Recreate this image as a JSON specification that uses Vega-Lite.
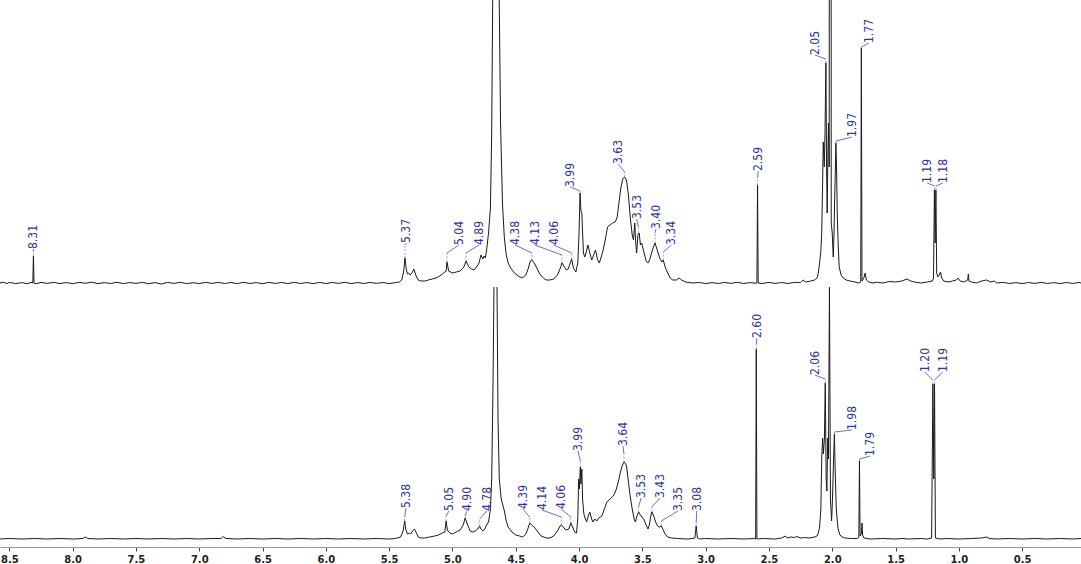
{
"$schema": "https://vega.github.io/schema/vega-lite/v6.json",
"width": 1081,
"height": 547,
"autosize": {"type": "none"},
"padding": {"left": 0, "top": 0, "right": 0, "bottom": 17},
"background": "white",
"config": {"view": {"stroke": null}},
"datasets": {
"top": [
{"ppm":8.574,"i":0},{"ppm":8.55,"i":0.8},{"ppm":8.52,"i":-0.5},{"ppm":8.5,"i":0.6},{"ppm":8.45,"i":-0.6},{"ppm":8.4,"i":0.4},{"ppm":8.36,"i":-0.8},{"ppm":8.33,"i":0.6},{"ppm":8.315,"i":0},{"ppm":8.31,"i":27},{"ppm":8.305,"i":0},{"ppm":8.29,"i":-0.8},{"ppm":8.25,"i":0.6},{"ppm":8.2,"i":-0.4},{"ppm":8.15,"i":0.7},{"ppm":8.1,"i":-0.6},{"ppm":8.05,"i":0.5},{"ppm":8.0,"i":-0.7},{"ppm":7.95,"i":0.6},{"ppm":7.9,"i":-0.3},{"ppm":7.85,"i":0.8},{"ppm":7.8,"i":-0.6},{"ppm":7.75,"i":0.4},{"ppm":7.7,"i":-0.5},{"ppm":7.65,"i":0.7},{"ppm":7.6,"i":-0.6},{"ppm":7.55,"i":0.5},{"ppm":7.5,"i":-0.4},{"ppm":7.45,"i":0.6},{"ppm":7.4,"i":-0.7},{"ppm":7.35,"i":0.4},{"ppm":7.3,"i":-1},{"ppm":7.25,"i":0.6},{"ppm":7.2,"i":-0.4},{"ppm":7.15,"i":0.7},{"ppm":7.1,"i":-0.6},{"ppm":7.05,"i":0.3},{"ppm":7.0,"i":-0.6},{"ppm":6.95,"i":0.7},{"ppm":6.9,"i":-0.4},{"ppm":6.85,"i":0.6},{"ppm":6.8,"i":-0.5},{"ppm":6.75,"i":0.5},{"ppm":6.7,"i":-0.6},{"ppm":6.65,"i":0.7},{"ppm":6.6,"i":-0.5},{"ppm":6.55,"i":0.4},{"ppm":6.5,"i":-0.7},{"ppm":6.45,"i":0.6},{"ppm":6.4,"i":-0.4},{"ppm":6.35,"i":0.5},{"ppm":6.3,"i":-0.6},{"ppm":6.25,"i":0.7},{"ppm":6.2,"i":-0.5},{"ppm":6.15,"i":0.4},{"ppm":6.1,"i":-0.6},{"ppm":6.05,"i":0.6},{"ppm":6.0,"i":-0.5},{"ppm":5.95,"i":0.5},{"ppm":5.9,"i":-0.4},{"ppm":5.85,"i":0.7},{"ppm":5.8,"i":-0.6},{"ppm":5.75,"i":0.5},{"ppm":5.7,"i":-0.5},{"ppm":5.65,"i":0.6},{"ppm":5.6,"i":-0.4},{"ppm":5.55,"i":0.5},{"ppm":5.5,"i":-0.6},{"ppm":5.45,"i":0.4},{"ppm":5.42,"i":1},
{"ppm":5.4,"i":3},{"ppm":5.385,"i":12},{"ppm":5.375,"i":25},{"ppm":5.365,"i":14},{"ppm":5.355,"i":9},{"ppm":5.345,"i":10},{"ppm":5.335,"i":8},{"ppm":5.32,"i":10},{"ppm":5.305,"i":14},{"ppm":5.29,"i":8},{"ppm":5.27,"i":3},{"ppm":5.25,"i":2},{"ppm":5.22,"i":2},{"ppm":5.19,"i":3},{"ppm":5.16,"i":4},{"ppm":5.13,"i":5},{"ppm":5.1,"i":7},{"ppm":5.07,"i":10},{"ppm":5.05,"i":12},{"ppm":5.043,"i":21},{"ppm":5.03,"i":12},{"ppm":5.0,"i":10},{"ppm":4.97,"i":11},{"ppm":4.94,"i":12},{"ppm":4.91,"i":16},{"ppm":4.893,"i":22},{"ppm":4.87,"i":16},{"ppm":4.85,"i":14},{"ppm":4.83,"i":13},{"ppm":4.81,"i":16},{"ppm":4.79,"i":20},{"ppm":4.775,"i":28},{"ppm":4.76,"i":24},{"ppm":4.75,"i":27},{"ppm":4.74,"i":25},{"ppm":4.73,"i":33},{"ppm":4.715,"i":50},{"ppm":4.7,"i":75},{"ppm":4.69,"i":150},{"ppm":4.68,"i":320},{"ppm":4.656,"i":5000},{"ppm":4.632,"i":300},{"ppm":4.62,"i":160},{"ppm":4.605,"i":80},{"ppm":4.59,"i":45},{"ppm":4.575,"i":28},{"ppm":4.56,"i":20},{"ppm":4.54,"i":15},{"ppm":4.51,"i":10},{"ppm":4.48,"i":7},{"ppm":4.45,"i":5},{"ppm":4.42,"i":8},{"ppm":4.4,"i":15},{"ppm":4.385,"i":22},{"ppm":4.372,"i":23},{"ppm":4.35,"i":19},{"ppm":4.33,"i":14},{"ppm":4.31,"i":9},{"ppm":4.29,"i":6},{"ppm":4.26,"i":3},{"ppm":4.23,"i":3},{"ppm":4.2,"i":4},{"ppm":4.17,"i":8},{"ppm":4.145,"i":16},{"ppm":4.135,"i":20},{"ppm":4.12,"i":17},{"ppm":4.1,"i":13},{"ppm":4.085,"i":14},{"ppm":4.07,"i":20},{"ppm":4.058,"i":24},{"ppm":4.045,"i":15},{"ppm":4.025,"i":11},{"ppm":4.01,"i":20},{"ppm":4.0,"i":50},{"ppm":3.992,"i":90},{"ppm":3.985,"i":72},{"ppm":3.978,"i":70},{"ppm":3.972,"i":50},{"ppm":3.965,"i":30},{"ppm":3.955,"i":26},{"ppm":3.945,"i":30},{"ppm":3.93,"i":38},{"ppm":3.915,"i":30},{"ppm":3.9,"i":23},{"ppm":3.885,"i":28},{"ppm":3.87,"i":33},{"ppm":3.855,"i":24},{"ppm":3.84,"i":20},{"ppm":3.825,"i":26},{"ppm":3.81,"i":33},{"ppm":3.795,"i":42},{"ppm":3.775,"i":56},{"ppm":3.755,"i":58},{"ppm":3.735,"i":60},{"ppm":3.715,"i":61},{"ppm":3.7,"i":65},{"ppm":3.685,"i":80},{"ppm":3.67,"i":95},{"ppm":3.655,"i":104},{"ppm":3.64,"i":106},{"ppm":3.625,"i":103},{"ppm":3.61,"i":88},{"ppm":3.595,"i":65},{"ppm":3.58,"i":48},{"ppm":3.57,"i":43},{"ppm":3.56,"i":60},{"ppm":3.552,"i":40},{"ppm":3.545,"i":30},{"ppm":3.535,"i":48},{"ppm":3.525,"i":50},{"ppm":3.515,"i":38},{"ppm":3.505,"i":40},{"ppm":3.49,"i":32},{"ppm":3.47,"i":22},{"ppm":3.455,"i":20},{"ppm":3.44,"i":24},{"ppm":3.425,"i":31},{"ppm":3.41,"i":37},{"ppm":3.4,"i":40},{"ppm":3.39,"i":36},{"ppm":3.375,"i":30},{"ppm":3.36,"i":24},{"ppm":3.345,"i":21},{"ppm":3.335,"i":23},{"ppm":3.32,"i":16},{"ppm":3.3,"i":10},{"ppm":3.28,"i":5},{"ppm":3.26,"i":3},{"ppm":3.23,"i":3},{"ppm":3.21,"i":5},{"ppm":3.19,"i":3},{"ppm":3.16,"i":1},{"ppm":3.1,"i":0},{"ppm":3.05,"i":0.6},{"ppm":3.0,"i":-0.6},{"ppm":2.95,"i":0.4},{"ppm":2.9,"i":-0.5},{"ppm":2.85,"i":0.6},{"ppm":2.8,"i":-0.4},{"ppm":2.75,"i":0.7},{"ppm":2.7,"i":-0.5},{"ppm":2.65,"i":0.4},{"ppm":2.6,"i":-0.3},{"ppm":2.595,"i":0},{"ppm":2.59,"i":98},{"ppm":2.585,"i":0},{"ppm":2.56,"i":-0.6},{"ppm":2.5,"i":0.6},{"ppm":2.45,"i":-0.4},{"ppm":2.4,"i":0.5},{"ppm":2.35,"i":-0.5},{"ppm":2.3,"i":0.6},{"ppm":2.25,"i":0.5},{"ppm":2.23,"i":3},{"ppm":2.21,"i":1},{"ppm":2.17,"i":2},{"ppm":2.14,"i":3},{"ppm":2.12,"i":5},{"ppm":2.11,"i":10},{"ppm":2.1,"i":20},{"ppm":2.09,"i":32},{"ppm":2.083,"i":50},{"ppm":2.076,"i":100},{"ppm":2.071,"i":141},{"ppm":2.063,"i":116},{"ppm":2.057,"i":150},{"ppm":2.05,"i":220},{"ppm":2.045,"i":120},{"ppm":2.04,"i":70},{"ppm":2.034,"i":130},{"ppm":2.03,"i":160},{"ppm":2.024,"i":116},{"ppm":2.015,"i":3000},{"ppm":2.008,"i":60},{"ppm":2.0,"i":50},{"ppm":1.992,"i":26},{"ppm":1.986,"i":50},{"ppm":1.981,"i":83},{"ppm":1.976,"i":110},{"ppm":1.971,"i":140},{"ppm":1.965,"i":110},{"ppm":1.96,"i":66},{"ppm":1.952,"i":35},{"ppm":1.945,"i":16},{"ppm":1.93,"i":8},{"ppm":1.913,"i":5},{"ppm":1.89,"i":3},{"ppm":1.86,"i":2},{"ppm":1.82,"i":1},{"ppm":1.79,"i":0},{"ppm":1.775,"i":1},{"ppm":1.77,"i":235},{"ppm":1.765,"i":2},{"ppm":1.75,"i":5},{"ppm":1.74,"i":10},{"ppm":1.73,"i":3},{"ppm":1.71,"i":1},{"ppm":1.68,"i":0},{"ppm":1.65,"i":0.8},{"ppm":1.6,"i":0},{"ppm":1.55,"i":1.5},{"ppm":1.5,"i":1},{"ppm":1.45,"i":2},{"ppm":1.41,"i":4},{"ppm":1.38,"i":2},{"ppm":1.35,"i":1},{"ppm":1.3,"i":0},{"ppm":1.25,"i":1},{"ppm":1.21,"i":2},{"ppm":1.2,"i":5},{"ppm":1.193,"i":93},{"ppm":1.187,"i":40},{"ppm":1.181,"i":93},{"ppm":1.175,"i":10},{"ppm":1.165,"i":6},{"ppm":1.155,"i":8},{"ppm":1.145,"i":11},{"ppm":1.135,"i":5},{"ppm":1.12,"i":2},{"ppm":1.08,"i":1},{"ppm":1.05,"i":2},{"ppm":1.02,"i":3},{"ppm":1.005,"i":5},{"ppm":0.99,"i":2},{"ppm":0.96,"i":1},{"ppm":0.93,"i":3},{"ppm":0.925,"i":9},{"ppm":0.92,"i":2},{"ppm":0.9,"i":1},{"ppm":0.86,"i":0},{"ppm":0.82,"i":2},{"ppm":0.78,"i":3},{"ppm":0.75,"i":1},{"ppm":0.72,"i":2},{"ppm":0.7,"i":0},{"ppm":0.65,"i":0.6},{"ppm":0.6,"i":-0.5},{"ppm":0.55,"i":0.4},{"ppm":0.5,"i":-0.6},{"ppm":0.45,"i":0.5},{"ppm":0.4,"i":-0.4},{"ppm":0.35,"i":0.6},{"ppm":0.3,"i":-0.5},{"ppm":0.25,"i":0.4},{"ppm":0.2,"i":-0.6},{"ppm":0.15,"i":0.5},{"ppm":0.1,"i":-0.4},{"ppm":0.05,"i":0.5},{"ppm":0.035,"i":0}
],
"bottom": [
{"ppm":8.574,"i":0},{"ppm":8.5,"i":0.5},{"ppm":8.4,"i":0},{"ppm":8.3,"i":0.5},{"ppm":8.2,"i":0},{"ppm":8.1,"i":0.5},{"ppm":8.0,"i":0},{"ppm":7.92,"i":0.5},{"ppm":7.9,"i":2},{"ppm":7.88,"i":0.5},{"ppm":7.8,"i":0},{"ppm":7.7,"i":0.5},{"ppm":7.6,"i":0},{"ppm":7.5,"i":0.5},{"ppm":7.4,"i":0},{"ppm":7.3,"i":0.5},{"ppm":7.2,"i":0},{"ppm":7.1,"i":0.5},{"ppm":7.0,"i":0},{"ppm":6.9,"i":0.5},{"ppm":6.83,"i":0.5},{"ppm":6.81,"i":2.5},{"ppm":6.79,"i":0.5},{"ppm":6.7,"i":0},{"ppm":6.6,"i":0.5},{"ppm":6.5,"i":0},{"ppm":6.4,"i":0.5},{"ppm":6.3,"i":0},{"ppm":6.2,"i":0.5},{"ppm":6.1,"i":0},{"ppm":6.0,"i":0.5},{"ppm":5.9,"i":0},{"ppm":5.8,"i":0.5},{"ppm":5.7,"i":0},{"ppm":5.6,"i":0.5},{"ppm":5.5,"i":0},{"ppm":5.45,"i":0.5},
{"ppm":5.41,"i":2},{"ppm":5.39,"i":8},{"ppm":5.377,"i":18},{"ppm":5.37,"i":10},{"ppm":5.355,"i":5},{"ppm":5.34,"i":6},{"ppm":5.33,"i":5},{"ppm":5.315,"i":8},{"ppm":5.3,"i":10},{"ppm":5.285,"i":6},{"ppm":5.27,"i":2},{"ppm":5.25,"i":1},{"ppm":5.22,"i":1},{"ppm":5.18,"i":2},{"ppm":5.14,"i":3},{"ppm":5.11,"i":4},{"ppm":5.08,"i":6},{"ppm":5.06,"i":7},{"ppm":5.05,"i":18},{"ppm":5.04,"i":9},{"ppm":5.02,"i":6},{"ppm":5.0,"i":5},{"ppm":4.97,"i":7},{"ppm":4.94,"i":9},{"ppm":4.915,"i":14},{"ppm":4.9,"i":21},{"ppm":4.88,"i":14},{"ppm":4.86,"i":8},{"ppm":4.84,"i":7},{"ppm":4.82,"i":8},{"ppm":4.8,"i":10},{"ppm":4.785,"i":13},{"ppm":4.775,"i":10},{"ppm":4.76,"i":8},{"ppm":4.745,"i":10},{"ppm":4.73,"i":14},{"ppm":4.715,"i":17},{"ppm":4.7,"i":30},{"ppm":4.69,"i":60},{"ppm":4.68,"i":150},{"ppm":4.672,"i":300},{"ppm":4.66,"i":null},{"ppm":4.648,"i":300},{"ppm":4.64,"i":120},{"ppm":4.63,"i":60},{"ppm":4.615,"i":40},{"ppm":4.6,"i":33},{"ppm":4.59,"i":28},{"ppm":4.575,"i":18},{"ppm":4.56,"i":12},{"ppm":4.53,"i":7},{"ppm":4.5,"i":4},{"ppm":4.47,"i":3},{"ppm":4.445,"i":2},{"ppm":4.42,"i":5},{"ppm":4.405,"i":10},{"ppm":4.39,"i":16},{"ppm":4.375,"i":14},{"ppm":4.355,"i":12},{"ppm":4.33,"i":8},{"ppm":4.3,"i":3},{"ppm":4.26,"i":1},{"ppm":4.23,"i":1},{"ppm":4.2,"i":3},{"ppm":4.17,"i":8},{"ppm":4.15,"i":13},{"ppm":4.14,"i":14},{"ppm":4.125,"i":12},{"ppm":4.105,"i":9},{"ppm":4.08,"i":10},{"ppm":4.065,"i":16},{"ppm":4.05,"i":12},{"ppm":4.035,"i":7},{"ppm":4.02,"i":6},{"ppm":4.01,"i":20},{"ppm":4.003,"i":60},{"ppm":3.997,"i":50},{"ppm":3.99,"i":72},{"ppm":3.985,"i":55},{"ppm":3.978,"i":70},{"ppm":3.972,"i":40},{"ppm":3.962,"i":25},{"ppm":3.95,"i":20},{"ppm":3.94,"i":17},{"ppm":3.925,"i":24},{"ppm":3.915,"i":27},{"ppm":3.9,"i":20},{"ppm":3.89,"i":17},{"ppm":3.875,"i":20},{"ppm":3.86,"i":18},{"ppm":3.845,"i":21},{"ppm":3.82,"i":23},{"ppm":3.8,"i":30},{"ppm":3.78,"i":37},{"ppm":3.755,"i":40},{"ppm":3.73,"i":43},{"ppm":3.71,"i":48},{"ppm":3.69,"i":57},{"ppm":3.675,"i":66},{"ppm":3.66,"i":73},{"ppm":3.645,"i":77},{"ppm":3.635,"i":76},{"ppm":3.625,"i":73},{"ppm":3.61,"i":57},{"ppm":3.595,"i":42},{"ppm":3.58,"i":30},{"ppm":3.565,"i":20},{"ppm":3.555,"i":17},{"ppm":3.545,"i":22},{"ppm":3.53,"i":27},{"ppm":3.51,"i":23},{"ppm":3.49,"i":20},{"ppm":3.47,"i":14},{"ppm":3.455,"i":10},{"ppm":3.445,"i":14},{"ppm":3.435,"i":22},{"ppm":3.425,"i":27},{"ppm":3.41,"i":23},{"ppm":3.395,"i":17},{"ppm":3.38,"i":13},{"ppm":3.365,"i":12},{"ppm":3.35,"i":13},{"ppm":3.335,"i":9},{"ppm":3.32,"i":5},{"ppm":3.3,"i":2},{"ppm":3.27,"i":1},{"ppm":3.22,"i":0.5},{"ppm":3.15,"i":0},{"ppm":3.1,"i":0.5},{"ppm":3.085,"i":1},{"ppm":3.075,"i":13},{"ppm":3.065,"i":1},{"ppm":3.05,"i":0},{"ppm":3.0,"i":0.5},{"ppm":2.9,"i":0},{"ppm":2.8,"i":0.5},{"ppm":2.7,"i":0},{"ppm":2.62,"i":0.5},{"ppm":2.605,"i":0},{"ppm":2.6,"i":190},{"ppm":2.595,"i":0},{"ppm":2.55,"i":0.5},{"ppm":2.45,"i":0},{"ppm":2.4,"i":1},{"ppm":2.37,"i":3},{"ppm":2.355,"i":1},{"ppm":2.33,"i":2},{"ppm":2.3,"i":1.5},{"ppm":2.28,"i":2.5},{"ppm":2.25,"i":1},{"ppm":2.22,"i":1.5},{"ppm":2.18,"i":1},{"ppm":2.14,"i":2},{"ppm":2.12,"i":3},{"ppm":2.11,"i":6},{"ppm":2.1,"i":12},{"ppm":2.09,"i":30},{"ppm":2.083,"i":81},{"ppm":2.076,"i":101},{"ppm":2.07,"i":85},{"ppm":2.062,"i":100},{"ppm":2.055,"i":156},{"ppm":2.048,"i":60},{"ppm":2.042,"i":48},{"ppm":2.036,"i":101},{"ppm":2.03,"i":80},{"ppm":2.022,"i":400},{"ppm":2.014,"i":40},{"ppm":2.005,"i":18},{"ppm":1.998,"i":40},{"ppm":1.99,"i":78},{"ppm":1.983,"i":105},{"ppm":1.976,"i":65},{"ppm":1.968,"i":30},{"ppm":1.955,"i":11},{"ppm":1.94,"i":4},{"ppm":1.92,"i":2},{"ppm":1.9,"i":1},{"ppm":1.85,"i":0.5},{"ppm":1.8,"i":0.5},{"ppm":1.79,"i":2},{"ppm":1.785,"i":78},{"ppm":1.78,"i":3},{"ppm":1.77,"i":5},{"ppm":1.765,"i":16},{"ppm":1.76,"i":4},{"ppm":1.75,"i":1},{"ppm":1.7,"i":0},{"ppm":1.6,"i":0.5},{"ppm":1.5,"i":0},{"ppm":1.45,"i":0.5},{"ppm":1.4,"i":0},{"ppm":1.3,"i":0.5},{"ppm":1.25,"i":0},{"ppm":1.215,"i":1},{"ppm":1.205,"i":155},{"ppm":1.198,"i":60},{"ppm":1.192,"i":155},{"ppm":1.185,"i":1},{"ppm":1.15,"i":0},{"ppm":1.1,"i":0.5},{"ppm":1.0,"i":0},{"ppm":0.9,"i":0.5},{"ppm":0.82,"i":1},{"ppm":0.78,"i":2},{"ppm":0.76,"i":0.5},{"ppm":0.7,"i":0},{"ppm":0.6,"i":0.5},{"ppm":0.5,"i":0},{"ppm":0.4,"i":0.5},{"ppm":0.3,"i":0},{"ppm":0.2,"i":0.5},{"ppm":0.1,"i":0},{"ppm":0.035,"i":0.5}
],
"topLabels": [
{"t":"8.31","px":8.31,"py":27,"ky":32,"lx":8.31,"ly":34},
{"t":"5.37","px":5.375,"py":25,"ky":38,"lx":5.365,"ly":40},
{"t":"5.04","px":5.043,"py":21,"ky":30,"lx":4.95,"ly":38},
{"t":"4.89","px":4.893,"py":22,"ky":30,"lx":4.79,"ly":38},
{"t":"4.38","px":4.372,"py":23,"ky":30,"lx":4.506,"ly":38},
{"t":"4.13","px":4.135,"py":20,"ky":28,"lx":4.35,"ly":38},
{"t":"4.06","px":4.058,"py":24,"ky":30,"lx":4.2,"ly":38},
{"t":"3.99","px":3.992,"py":90,"ky":92,"lx":4.07,"ly":96},
{"t":"3.63","px":3.64,"py":106,"ky":111,"lx":3.69,"ly":119},
{"t":"3.53","px":3.53,"py":50,"ky":56,"lx":3.545,"ly":64},
{"t":"3.40","px":3.4,"py":40,"ky":50,"lx":3.392,"ly":54},
{"t":"3.34","px":3.335,"py":23,"ky":31,"lx":3.27,"ly":38},
{"t":"2.59","px":2.59,"py":98,"ky":105,"lx":2.585,"ly":112},
{"t":"2.05","px":2.05,"py":220,"ky":224,"lx":2.137,"ly":228},
{"t":"1.97","px":1.971,"py":140,"ky":142,"lx":1.845,"ly":146},
{"t":"1.77","px":1.77,"py":235,"ky":236,"lx":1.71,"ly":240},
{"t":"1.19","px":1.193,"py":93,"ky":97,"lx":1.25,"ly":100},
{"t":"1.18","px":1.181,"py":93,"ky":97,"lx":1.127,"ly":100}
],
"bottomLabels": [
{"t":"5.38","px":5.377,"py":18,"ky":22,"lx":5.367,"ly":31},
{"t":"5.05","px":5.05,"py":18,"ky":23,"lx":5.027,"ly":28},
{"t":"4.90","px":4.9,"py":21,"ky":23,"lx":4.886,"ly":28},
{"t":"4.78","px":4.785,"py":13,"ky":20,"lx":4.73,"ly":28},
{"t":"4.39","px":4.39,"py":16,"ky":22,"lx":4.443,"ly":30},
{"t":"4.14","px":4.14,"py":14,"ky":22,"lx":4.293,"ly":29},
{"t":"4.06","px":4.065,"py":16,"ky":22,"lx":4.143,"ly":30},
{"t":"3.99","px":3.99,"py":72,"ky":78,"lx":4.009,"ly":88},
{"t":"3.64","px":3.645,"py":77,"ky":85,"lx":3.653,"ly":93},
{"t":"3.53","px":3.53,"py":27,"ky":32,"lx":3.51,"ly":41},
{"t":"3.43","px":3.425,"py":27,"ky":32,"lx":3.36,"ly":41},
{"t":"3.35","px":3.35,"py":13,"ky":18,"lx":3.218,"ly":28},
{"t":"3.08","px":3.075,"py":13,"ky":16,"lx":3.07,"ly":28},
{"t":"2.60","px":2.6,"py":190,"ky":195,"lx":2.595,"ly":201},
{"t":"2.06","px":2.055,"py":156,"ky":160,"lx":2.137,"ly":164},
{"t":"1.98","px":1.983,"py":105,"ky":107,"lx":1.845,"ly":109},
{"t":"1.79","px":1.785,"py":78,"ky":80,"lx":1.7,"ly":83},
{"t":"1.20","px":1.205,"py":155,"ky":159,"lx":1.27,"ly":167},
{"t":"1.19","px":1.192,"py":155,"ky":159,"lx":1.127,"ly":167}
]
},
"resolve": {"scale": {"y": "independent"}},
"layer": [
{
"layer": [
{"data": {"name": "top"},
 "mark": {"type": "line", "clip": true, "color": "#1a1a1a", "strokeWidth": 1},
 "encoding": {
  "x": {"field": "ppm", "type": "quantitative", "title": null,
        "scale": {"domain": [8.574, 0.035], "nice": false, "zero": false},
        "axis": {"values": [8.5,8.25,8,7.75,7.5,7.25,7,6.75,6.5,6.25,6,5.75,5.5,5.25,5,4.75,4.5,4.25,4,3.75,3.5,3.25,3,2.75,2.5,2.25,2,1.75,1.5,1.25,1,0.75,0.5,0.25,0],
                 "labelExpr": "abs(datum.value*2 - round(datum.value*2)) < 0.01 ? (datum.value == 0 ? '0' : format(datum.value, '.1f')) : ''",
                 "tickSize": {"condition": {"test": "abs(datum.value*2 - round(datum.value*2)) < 0.01", "value": 4}, "value": 2},
                 "grid": false, "domainColor": "#9a9a9a", "domainWidth": 1, "tickColor": "#444", "tickWidth": 1,
                 "labelFont": "DejaVu Sans", "labelFontWeight": "bold", "labelFontSize": 10, "labelColor": "#222",
                 "labelPadding": 3, "labelFlush": false, "labelOverlap": false, "labelBound": false, "title": null}},
  "y": {"field": "i", "type": "quantitative", "axis": null,
        "scale": {"domain": [-7, 283], "range": [290, 0], "nice": false, "zero": false}}
 }},
{"data": {"name": "topLabels"},
 "mark": {"type": "rule", "color": "#8585c4", "strokeWidth": 0.8, "strokeDash": [2, 1.5]},
 "encoding": {
  "x": {"field": "px", "type": "quantitative", "title": null},
  "y": {"field": "py", "type": "quantitative", "axis": null, "scale": {"domain": [-7, 283], "range": [290, 0], "nice": false, "zero": false}},
  "y2": {"field": "ky"}
 }},
{"data": {"name": "topLabels"},
 "mark": {"type": "rule", "color": "#4a4aa6", "strokeWidth": 0.8},
 "encoding": {
  "x": {"field": "px", "type": "quantitative", "title": null},
  "x2": {"field": "lx"},
  "y": {"field": "ky", "type": "quantitative", "axis": null, "scale": {"domain": [-7, 283], "range": [290, 0], "nice": false, "zero": false}},
  "y2": {"field": "ly"}
 }},
{"data": {"name": "topLabels"},
 "mark": {"type": "text", "angle": 270, "align": "left", "baseline": "middle", "fontSize": 12, "font": "Liberation Sans Narrow, DejaVu Sans Condensed, sans-serif", "color": "#34349a"},
 "encoding": {
  "x": {"field": "lx", "type": "quantitative", "title": null},
  "y": {"field": "ly", "type": "quantitative", "axis": null, "scale": {"domain": [-7, 283], "range": [290, 0], "nice": false, "zero": false}},
  "text": {"field": "t"}
 }}
]
},
{
"layer": [
{"data": {"name": "bottom"},
 "mark": {"type": "line", "color": "#1a1a1a", "strokeWidth": 1},
 "encoding": {
  "x": {"field": "ppm", "type": "quantitative", "title": null},
  "y": {"field": "i", "type": "quantitative", "axis": null,
        "scale": {"domain": [-8, 252], "range": [547, 287], "nice": false, "zero": false, "clamp": true}}
 }},
{"data": {"name": "bottomLabels"},
 "mark": {"type": "rule", "color": "#8585c4", "strokeWidth": 0.8, "strokeDash": [2, 1.5]},
 "encoding": {
  "x": {"field": "px", "type": "quantitative", "title": null},
  "y": {"field": "py", "type": "quantitative", "axis": null, "scale": {"domain": [-8, 252], "range": [547, 287], "nice": false, "zero": false, "clamp": true}},
  "y2": {"field": "ky"}
 }},
{"data": {"name": "bottomLabels"},
 "mark": {"type": "rule", "color": "#4a4aa6", "strokeWidth": 0.8},
 "encoding": {
  "x": {"field": "px", "type": "quantitative", "title": null},
  "x2": {"field": "lx"},
  "y": {"field": "ky", "type": "quantitative", "axis": null, "scale": {"domain": [-8, 252], "range": [547, 287], "nice": false, "zero": false, "clamp": true}},
  "y2": {"field": "ly"}
 }},
{"data": {"name": "bottomLabels"},
 "mark": {"type": "text", "angle": 270, "align": "left", "baseline": "middle", "fontSize": 12, "font": "Liberation Sans Narrow, DejaVu Sans Condensed, sans-serif", "color": "#34349a"},
 "encoding": {
  "x": {"field": "lx", "type": "quantitative", "title": null},
  "y": {"field": "ly", "type": "quantitative", "axis": null, "scale": {"domain": [-8, 252], "range": [547, 287], "nice": false, "zero": false, "clamp": true}},
  "text": {"field": "t"}
 }}
]
}
]
}
